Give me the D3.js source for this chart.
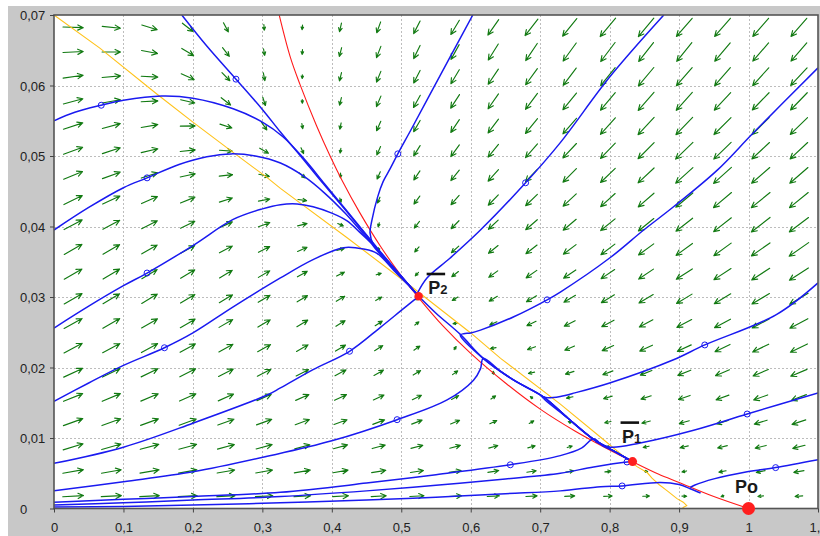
<!DOCTYPE html>
<head>
<meta charset="utf-8">
<script src="https://d3js.org/d3.v7.min.js"></script>
<style>
  body { margin:0; background:#fff; }
  svg { display:block; }
  text { font-family: "Liberation Sans", Arial, sans-serif; }
</style>
</head>
<body>
<svg width="820" height="536"></svg>
<script>
// axis ticks
var xTicks = [0,0.1,0.2,0.3,0.4,0.5,0.6,0.7,0.8,0.9,1,1.1];
var xTickLabels = ["0","0,1","0,2","0,3","0,4","0,5","0,6","0,7","0,8","0,9","1","1,1"];
var yTicks = [0,0.01,0.02,0.03,0.04,0.05,0.06,0.07];
var yTickLabels = ["0","0,01","0,02","0,03","0,04","0,05","0,06","0,07"];

// direction field: grid centres, angle (deg, up = +) and speed, rows bottom -> top
var arrowX = [0.0275,0.0825,0.1375,0.1925,0.2475,0.3025,0.3575,0.4125,0.4675,0.5225,0.5775,0.6325,0.6875,0.7425,0.7975,0.8525,0.9075,0.9625,1.0175,1.0725];
var arrowY = [0.00175,0.00525,0.00875,0.01225,0.01575,0.01925,0.02275,0.02625,0.02975,0.03325,0.03675,0.04025,0.04375,0.04725,0.05075,0.05425,0.05775,0.06125,0.06475,0.06825];
var fieldAngle = [
  [3,3,3,3,3,3,3,3,3,3,3,3,3,3,2,2,-1,-159,-174,-175],
  [10,10,10,10,10,10,10,10,9,9,9,9,9,9,8,-5,-167,-169,-169,-170],
  [17,16,15,15,15,15,15,15,15,15,15,16,16,17,174,-168,-166,-166,-166,-166],
  [20,20,20,20,20,20,20,20,21,21,22,24,29,162,-168,-165,-164,-163,-163,-162],
  [22,23,23,24,24,24,24,25,25,26,29,35,141,-168,-163,-162,-161,-160,-160,-159],
  [25,26,26,27,27,27,27,28,29,31,36,93,-168,-162,-159,-158,-158,-157,-157,-157],
  [28,28,29,29,29,29,30,31,32,35,56,-169,-160,-157,-156,-155,-155,-154,-154,-154],
  [29,30,30,30,30,31,31,32,33,39,-172,-156,-154,-153,-152,-152,-152,-152,-152,-152],
  [30,31,31,31,31,31,31,31,31,34,-149,-149,-149,-149,-149,-149,-149,-149,-149,-149],
  [30,31,31,31,31,30,29,27,16,-133,-142,-144,-145,-146,-146,-146,-147,-147,-147,-147],
  [30,30,30,29,28,27,24,14,-75,-130,-138,-141,-142,-143,-143,-144,-144,-144,-145,-145],
  [28,28,27,26,24,20,13,-23,-107,-128,-134,-137,-139,-140,-141,-141,-142,-142,-142,-143],
  [26,25,24,22,18,11,-8,-71,-113,-126,-131,-134,-136,-137,-138,-139,-140,-140,-141,-141],
  [22,20,18,12,6,-12,-40,-91,-114,-124,-129,-132,-134,-135,-136,-137,-138,-138,-139,-139],
  [20,18,13,6,-4,-30,-66,-99,-114,-122,-126,-129,-131,-133,-134,-135,-136,-136,-137,-137],
  [18,15,10,1,-18,-55,-80,-102,-114,-120,-124,-127,-129,-131,-132,-133,-134,-135,-135,-136],
  [15,10,3,-13,-38,-72,-88,-104,-113,-119,-123,-125,-127,-129,-130,-131,-132,-133,-134,-134],
  [8,5,-3,-24,-46,-79,-92,-104,-112,-117,-121,-124,-126,-127,-129,-130,-131,-131,-132,-133],
  [3,0,-11,-31,-52,-80,-95,-105,-111,-116,-119,-122,-124,-126,-127,-128,-129,-130,-131,-131],
  [-2,-6,-17,-38,-62,-85,-96,-103,-110,-117,-121,-125,-128,-129,-130,-130,-131,-131,-131,-131]
];
var fieldSpeed = [
  [0.97,0.91,0.86,0.80,0.74,0.68,0.62,0.57,0.51,0.45,0.39,0.33,0.28,0.22,0.16,0.10,0.05,0.02,0.07,0.13],
  [0.97,0.90,0.84,0.78,0.71,0.65,0.59,0.52,0.46,0.39,0.33,0.27,0.20,0.14,0.08,0.02,0.05,0.12,0.18,0.24],
  [0.97,0.90,0.83,0.76,0.69,0.62,0.55,0.48,0.41,0.34,0.27,0.20,0.13,0.06,0.02,0.08,0.15,0.22,0.29,0.36],
  [0.96,0.89,0.81,0.74,0.66,0.59,0.51,0.43,0.36,0.28,0.21,0.13,0.06,0.02,0.09,0.17,0.24,0.32,0.40,0.47],
  [0.96,0.88,0.80,0.72,0.63,0.55,0.47,0.39,0.31,0.23,0.15,0.07,0.02,0.10,0.18,0.26,0.34,0.42,0.50,0.58],
  [0.96,0.87,0.78,0.70,0.61,0.52,0.43,0.35,0.26,0.17,0.09,0.02,0.09,0.18,0.26,0.35,0.44,0.52,0.61,0.70],
  [0.95,0.86,0.77,0.68,0.58,0.49,0.40,0.30,0.21,0.12,0.03,0.07,0.16,0.25,0.35,0.44,0.53,0.63,0.72,0.81],
  [0.95,0.85,0.75,0.65,0.56,0.46,0.36,0.26,0.16,0.06,0.04,0.14,0.23,0.33,0.43,0.53,0.63,0.73,0.83,0.93],
  [0.95,0.84,0.74,0.63,0.53,0.43,0.32,0.22,0.11,0.02,0.10,0.20,0.31,0.41,0.52,0.62,0.73,0.83,0.94,1.04],
  [0.94,0.83,0.72,0.61,0.50,0.39,0.28,0.17,0.06,0.05,0.16,0.27,0.38,0.49,0.60,0.71,0.82,0.93,1.04,1.15],
  [0.94,0.83,0.71,0.59,0.48,0.36,0.24,0.13,0.03,0.10,0.22,0.34,0.45,0.57,0.69,0.80,0.92,1.03,1.15,1.27],
  [0.94,0.82,0.70,0.57,0.45,0.33,0.21,0.08,0.04,0.16,0.28,0.40,0.53,0.65,0.77,0.89,1.01,1.14,1.26,1.38],
  [0.94,0.81,0.68,0.55,0.42,0.30,0.17,0.04,0.09,0.22,0.34,0.47,0.60,0.73,0.86,0.98,1.11,1.24,1.37,1.50],
  [0.93,0.80,0.67,0.53,0.40,0.26,0.13,0.05,0.14,0.27,0.40,0.54,0.67,0.81,0.94,1.07,1.21,1.34,1.48,1.61],
  [0.93,0.79,0.65,0.51,0.37,0.23,0.09,0.05,0.19,0.33,0.47,0.61,0.75,0.88,1.02,1.16,1.30,1.44,1.58,1.72],
  [0.93,0.78,0.64,0.49,0.35,0.20,0.06,0.09,0.24,0.38,0.53,0.67,0.82,0.96,1.11,1.25,1.40,1.55,1.69,1.84],
  [0.92,0.77,0.62,0.47,0.32,0.17,0.03,0.13,0.29,0.44,0.59,0.74,0.89,1.04,1.19,1.34,1.50,1.65,1.80,1.95],
  [0.92,0.76,0.61,0.45,0.29,0.14,0.03,0.16,0.30,0.45,0.60,0.75,0.90,1.05,1.20,1.35,1.50,1.65,1.80,1.95],
  [0.92,0.76,0.59,0.43,0.27,0.10,0.05,0.18,0.33,0.48,0.64,0.80,0.96,1.12,1.28,1.45,1.62,1.80,1.95,2.10],
  [0.92,0.75,0.58,0.41,0.24,0.07,0.05,0.17,0.30,0.45,0.62,0.80,0.98,1.15,1.32,1.50,1.65,1.80,1.95,2.10]
];

// nullclines
var redCurve = [[0.3235,0.0703],[0.34,0.0641],[0.354,0.0602],[0.378,0.0543],[0.398,0.0499],[0.415,0.0465],[0.44,0.042],[0.47,0.0372],[0.5,0.033],[0.525,0.0299],[0.56,0.0259],[0.6,0.022],[0.65,0.0178],[0.7,0.0141],[0.75,0.011],[0.8,0.0083],[0.833,0.00665],[0.87,0.0049],[0.9,0.0037],[0.95,0.0017],[1.0,0]];
var yellowCurve = [[0,0.07],[0.066,0.0653],[0.148,0.0588],[0.2,0.0548],[0.254,0.0508],[0.306,0.047],[0.326,0.0454],[0.422,0.0384],[0.513,0.0316],[0.6,0.0249],[0.643,0.0213],[0.729,0.0148],[0.787,0.0101],[0.825,0.007],[0.84,0.0059],[0.854,0.0051],[0.861,0.0043],[0.871,0.0034],[0.883,0.0025],[0.897,0.0014],[0.906,0.0009],[0.911,0.0004],[0.905,0.0001]];

// trajectories
var trajTopA = [[0.184,0.07],[0.22,0.0656],[0.262,0.0609],[0.3,0.0566],[0.326,0.0534],[0.36,0.0494],[0.39,0.0458],[0.42,0.0423],[0.445,0.0393],[0.465,0.0369],[0.49,0.034],[0.51,0.0318],[0.525,0.0301]];
var trajLeft55 = [[0,0.055],[0.03,0.0562],[0.068,0.0572],[0.1,0.0579],[0.155,0.0585],[0.2,0.0582],[0.258,0.0567],[0.3,0.0548],[0.33,0.0527],[0.36,0.0496],[0.39,0.046],[0.42,0.0424],[0.445,0.0394],[0.465,0.037],[0.49,0.0341],[0.51,0.0318],[0.525,0.0301]];
var trajLeft40 = [[0,0.0395],[0.05,0.0427],[0.1,0.0455],[0.134,0.0469],[0.18,0.0488],[0.22,0.0499],[0.255,0.0503],[0.29,0.05],[0.326,0.049],[0.36,0.0471],[0.39,0.0447],[0.42,0.0418],[0.445,0.039],[0.465,0.0368],[0.49,0.034],[0.51,0.0318],[0.525,0.0301]];
var trajLeft26 = [[0,0.0256],[0.05,0.0287],[0.1,0.0316],[0.134,0.0334],[0.2,0.0373],[0.258,0.041],[0.3,0.0425],[0.326,0.0431],[0.35,0.0432],[0.373,0.0428],[0.4,0.0419],[0.422,0.0408],[0.44,0.0392],[0.455,0.0378],[0.465,0.0366],[0.49,0.0339],[0.51,0.0318],[0.525,0.0301]];
var trajLeft15 = [[0,0.0152],[0.05,0.0178],[0.1,0.0203],[0.159,0.0228],[0.2,0.0249],[0.258,0.0286],[0.326,0.0327],[0.373,0.0353],[0.417,0.037],[0.446,0.0368],[0.465,0.0362],[0.49,0.0337],[0.51,0.0317],[0.525,0.0301]];
var trajTopB = [[0.603,0.07],[0.57,0.064],[0.54,0.0585],[0.515,0.0539],[0.495,0.0503],[0.484,0.0482],[0.474,0.0464],[0.466,0.0442],[0.458,0.041],[0.455,0.0391],[0.46,0.0374],[0.47,0.0362],[0.49,0.034],[0.51,0.0318],[0.525,0.0301]];
var trajTopC = [[0.878,0.07],[0.8,0.0612],[0.729,0.0519],[0.679,0.0462],[0.614,0.0395],[0.57,0.0355],[0.537,0.0327],[0.523,0.0305]];
var trajRight62 = [[1.1,0.0625],[1.007,0.0533],[0.955,0.048],[0.892,0.0428],[0.849,0.0395],[0.801,0.0356],[0.729,0.0307],[0.71,0.0296],[0.662,0.0272],[0.614,0.0253],[0.6,0.0249],[0.59,0.0248],[0.585,0.0246],[0.618,0.0213],[0.662,0.0182],[0.705,0.0158],[0.74,0.0128],[0.777,0.0098],[0.805,0.0082],[0.833,0.00665]];
var manifoldP2P1 = [[0.525,0.0301],[0.55,0.0277],[0.585,0.0247],[0.618,0.0213],[0.662,0.0182],[0.705,0.0158],[0.74,0.0128],[0.777,0.0098],[0.805,0.0082],[0.833,0.00665]];
var trajLeft6 = [[0,0.0064],[0.1,0.0087],[0.2,0.0121],[0.307,0.0161],[0.326,0.0171],[0.373,0.0197],[0.4255,0.0223],[0.47,0.0257],[0.5,0.0281],[0.525,0.0301]];
var trajLeft25 = [[0,0.0025],[0.1,0.0038],[0.2,0.0052],[0.307,0.0074],[0.4,0.0096],[0.494,0.0126],[0.566,0.0154],[0.604,0.0182],[0.614,0.0198],[0.618,0.0213],[0.64,0.0197],[0.662,0.0182],[0.705,0.0158],[0.74,0.0128],[0.777,0.0098],[0.805,0.0082],[0.833,0.00665]];
var trajRight32 = [[1.1,0.032],[1.04,0.0275],[0.937,0.0232],[0.892,0.0211],[0.8,0.0178],[0.75,0.0164],[0.729,0.0159],[0.71,0.0157],[0.702,0.0159],[0.74,0.0128],[0.777,0.0098],[0.805,0.0082],[0.833,0.00665]];
var trajRight16 = [[1.1,0.0164],[0.998,0.0134],[0.921,0.0111],[0.844,0.0093],[0.801,0.0087],[0.78,0.0095]];
var trajBottom1 = [[0,0.0009],[0.1,0.0013],[0.2,0.0017],[0.326,0.0023],[0.45,0.0036],[0.55,0.0048],[0.657,0.0062],[0.729,0.0075],[0.76,0.0086],[0.777,0.0099],[0.79,0.0089],[0.805,0.0082],[0.833,0.00665]];
var trajBottom2 = [[0,0.0005],[0.1,0.0008],[0.2,0.0012],[0.326,0.0017],[0.45,0.0025],[0.55,0.0033],[0.65,0.0042],[0.729,0.005],[0.777,0.0059],[0.825,0.0066],[0.833,0.00665]];
var trajBottom3 = [[0,0.0002],[0.1,0.0003],[0.2,0.0005],[0.326,0.0008],[0.45,0.0012],[0.55,0.0016],[0.65,0.0021],[0.729,0.0025],[0.787,0.0031],[0.818,0.0032],[0.873,0.0037],[0.9,0.0034],[0.916,0.0028],[0.931,0.0022]];
var trajRight7 = [[1.1,0.0069],[1.039,0.0058],[0.998,0.0052],[0.95,0.0042],[0.922,0.0033],[0.916,0.003]];

var trajectories = [trajTopA, trajLeft55, trajLeft40, trajLeft26, trajLeft15, trajTopB, trajTopC, trajRight62,
  manifoldP2P1, trajLeft6, trajLeft25, trajRight32, trajRight16, trajBottom1, trajBottom2, trajBottom3, trajRight7];

// starting points marked with small circles
var startPoints = [[0.068,0.0572],[0.262,0.0609],[0.134,0.0469],[0.134,0.0334],[0.159,0.0228],[0.495,0.0503],[0.679,0.0462],[0.71,0.0296],[0.4255,0.0223],[0.494,0.0126],[0.937,0.0232],[0.998,0.0134],[0.657,0.0062],[0.825,0.0066],[0.818,0.0032],[1.039,0.0058]];

// equilibria
var eqNames = ["P2", "P1", "Po"];
var eqX = [0.525, 0.833, 1.0];
var eqY = [0.0301, 0.00665, 0];

var svg = d3.select("svg");
var x = d3.scaleLinear().domain([0, 1.1]).range([54, 818]);
var y = d3.scaleLinear().domain([0, 0.07]).range([508.5, 15]);

svg.append("rect").attr("x", 8).attr("y", 6).attr("width", 812).attr("height", 530).attr("fill", "#c8c8c8");
svg.append("rect").attr("x", 54).attr("y", 15).attr("width", 764).attr("height", 493.5).attr("fill", "#fff");

svg.append("clipPath").attr("id", "plot")
  .append("rect").attr("x", 54).attr("y", 15).attr("width", 764).attr("height", 493.5);

// grid
var grid = svg.append("g").attr("stroke", "#bdbdbd").attr("stroke-dasharray", "2,2").attr("stroke-width", 1);
grid.selectAll(".gx").data(xTicks.slice(1, -1)).join("line")
  .attr("x1", function(d){ return Math.round(x(d)) + 0.5; }).attr("x2", function(d){ return Math.round(x(d)) + 0.5; })
  .attr("y1", 15).attr("y2", 508.5);
grid.selectAll(".gy").data(yTicks.slice(1, -1)).join("line")
  .attr("y1", function(d){ return Math.round(y(d)) + 0.5; }).attr("y2", function(d){ return Math.round(y(d)) + 0.5; })
  .attr("x1", 54).attr("x2", 818);

// direction field
var lenScale = d3.scaleSqrt().domain([0, 1.3]).range([0, 24]).clamp(true);
var arrows = [];
fieldAngle.forEach(function(row, j) {
  row.forEach(function(a, i) {
    arrows.push({x: arrowX[i], y: arrowY[j], a: a, s: fieldSpeed[j][i]});
  });
});
svg.append("g").attr("clip-path", "url(#plot)")
  .selectAll("path").data(arrows).join("path")
  .attr("fill", "none").attr("stroke", "#127a12").attr("stroke-width", 1.15)
  .attr("stroke-linecap", "round").attr("stroke-linejoin", "round")
  .attr("d", function(d) {
    var L = Math.max(2.5, lenScale(d.s));
    var t = d.a * Math.PI / 180;
    var ux = Math.cos(t), uy = -Math.sin(t);
    var cx = x(d.x), cy = y(d.y);
    var x0 = cx - ux * L / 2, y0 = cy - uy * L / 2;
    var x1 = cx + ux * L / 2, y1 = cy + uy * L / 2;
    var h = Math.min(6, 0.3 * L + 1.5), w = 0.45;
    var c = Math.cos(w), s = Math.sin(w);
    var b1x = x1 - h * (ux * c - uy * s), b1y = y1 - h * (ux * s + uy * c);
    var b2x = x1 - h * (ux * c + uy * s), b2y = y1 - h * (-ux * s + uy * c);
    return "M" + x0 + "," + y0 + "L" + x1 + "," + y1 +
           "M" + b1x + "," + b1y + "L" + x1 + "," + y1 + "L" + b2x + "," + b2y;
  });

var plot = svg.append("g").attr("clip-path", "url(#plot)");
var line = d3.line().x(function(d){ return x(d[0]); }).y(function(d){ return y(d[1]); });
var smooth = d3.line().x(function(d){ return x(d[0]); }).y(function(d){ return y(d[1]); })
  .curve(d3.curveCatmullRom.alpha(0.5));

plot.append("path").attr("d", line(yellowCurve)).attr("fill", "none").attr("stroke", "#ffc21a").attr("stroke-width", 1.1);
plot.append("path").attr("d", smooth(redCurve)).attr("fill", "none").attr("stroke", "#ff1a1a").attr("stroke-width", 1.1);

plot.selectAll(".traj").data(trajectories).join("path")
  .attr("d", smooth).attr("fill", "none").attr("stroke", "#1a1af0").attr("stroke-width", 1.5);

plot.selectAll(".start").data(startPoints).join("circle")
  .attr("cx", function(d){ return x(d[0]); }).attr("cy", function(d){ return y(d[1]); })
  .attr("r", 3).attr("fill", "none").attr("stroke", "#1a1af0").attr("stroke-width", 1);

// frame and axes
svg.append("rect").attr("x", 54).attr("y", 15).attr("width", 764).attr("height", 493.5)
  .attr("fill", "none").attr("stroke", "#555").attr("stroke-width", 1.6);

var yAxis = svg.append("g").attr("transform", "translate(54,0)")
  .call(d3.axisLeft(y).tickValues(yTicks).tickFormat(function(d, i){ return yTickLabels[i]; }).tickSize(4).tickSizeOuter(0));
yAxis.select(".domain").remove();
yAxis.selectAll("line").attr("stroke", "#444");
yAxis.selectAll("text").attr("x", -34).attr("text-anchor", "start").attr("dy", "0.36em")
  .attr("font-size", 13).attr("font-family", "Liberation Sans, Arial, sans-serif").attr("fill", "#222");

var xAxis = svg.append("g").attr("transform", "translate(0,508.5)")
  .call(d3.axisBottom(x).tickValues(xTicks).tickFormat(function(d, i){ return xTickLabels[i]; }).tickSize(4).tickPadding(10).tickSizeOuter(0));
xAxis.select(".domain").remove();
xAxis.selectAll("line").attr("stroke", "#444");
xAxis.selectAll("text").attr("font-size", 13).attr("font-family", "Liberation Sans, Arial, sans-serif").attr("fill", "#222");

// equilibria
var eqR = [4.2, 4.5, 6.5];
svg.selectAll(".eq").data(eqNames).join("circle")
  .attr("cx", function(d, i){ return x(eqX[i]); }).attr("cy", function(d, i){ return y(eqY[i]); })
  .attr("r", function(d, i){ return eqR[i]; }).attr("fill", "#ff1f1f");

function barLabel(px, py, sub) {
  svg.append("line").attr("x1", px - 1.5).attr("x2", px + 17).attr("y1", py - 20.5).attr("y2", py - 20.5)
    .attr("stroke", "#111").attr("stroke-width", 2.6);
  svg.append("text").attr("x", px).attr("y", py).attr("font-size", 18).attr("font-weight", "bold")
    .attr("fill", "#1a1a1a").text("P");
  svg.append("text").attr("x", px + 12).attr("y", py).attr("font-size", 13).attr("font-weight", "bold")
    .attr("fill", "#1a1a1a").text(sub);
}
barLabel(x(eqX[0]) + 9.5, y(eqY[0]) - 1.8, "2");
barLabel(x(eqX[1]) - 10.5, y(eqY[1]) - 18.5, "1");
svg.append("text").attr("x", x(eqX[2]) - 13.5).attr("y", y(eqY[2]) - 15.5)
  .attr("font-size", 18).attr("font-weight", "bold").attr("fill", "#1a1a1a").text("Po");
</script>
</body>
